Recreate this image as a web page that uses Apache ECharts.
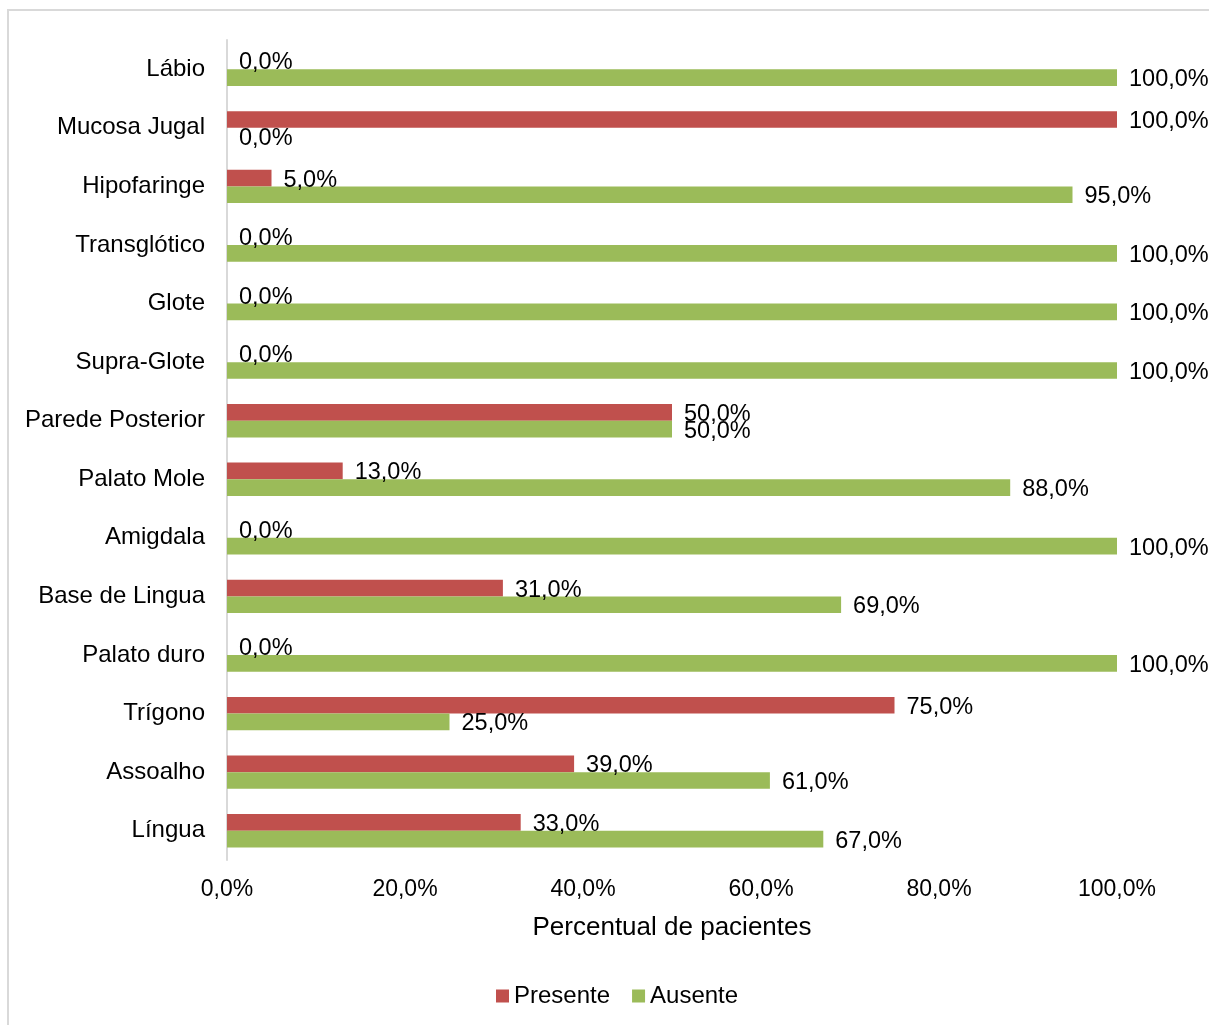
<!DOCTYPE html>
<html>
<head>
<meta charset="utf-8">
<script src="https://cdn.jsdelivr.net/npm/echarts@6/dist/echarts.min.js"></script>
<style>
  html, body { margin: 0; padding: 0; background: #ffffff; }
  #chart { width: 1209px; height: 1025px; }
</style>
</head>
<body>
<div id="chart"></div>
<script>
// Sites, listed top to bottom
const categories = [
  'Lábio', 'Mucosa Jugal', 'Hipofaringe', 'Transglótico', 'Glote', 'Supra-Glote',
  'Parede Posterior', 'Palato Mole', 'Amigdala', 'Base de Lingua', 'Palato duro',
  'Trígono', 'Assoalho', 'Língua'
];
const presente = [0, 100, 5, 0, 0, 0, 50, 13, 0, 31, 0, 75, 39, 33];
const ausente  = [100, 0, 95, 100, 100, 100, 50, 88, 100, 69, 100, 25, 61, 67];
const xTicks = [0, 20, 40, 60, 80, 100];

const FONT = 'Liberation Sans, Arial, sans-serif';
const fmt = v => Number(v).toFixed(1).replace('.', ',') + '%';

const chart = echarts.init(document.getElementById('chart'), null, { renderer: 'canvas' });

const labelStyle = {
  show: true,
  position: 'right',
  distance: 12,
  offset: [0, 2],
  color: '#000',
  fontFamily: FONT,
  fontSize: 23.5,
  formatter: p => fmt(p.value)
};

chart.setOption({
  animation: false,
  backgroundColor: '#ffffff',
  graphic: [{
    type: 'rect',
    shape: { x: 8, y: 10, width: 1210, height: 1030 },
    style: { fill: 'none', stroke: '#d9d9d9', lineWidth: 2 },
    silent: true
  }],
  grid: { left: 227, right: 92, top: 40, bottom: 165, containLabel: false },
  legend: {
    data: ['Presente', 'Ausente'],
    left: 491,
    top: 979,
    itemWidth: 13,
    itemHeight: 13,
    itemGap: 22,
    icon: 'rect',
    textStyle: { fontFamily: FONT, fontSize: 24, color: '#000' }
  },
  xAxis: {
    type: 'value',
    min: xTicks[0],
    max: xTicks[xTicks.length - 1],
    interval: 20,
    name: 'Percentual de pacientes',
    nameLocation: 'middle',
    nameGap: 55,
    nameTextStyle: { fontFamily: FONT, fontSize: 26, color: '#000' },
    axisLine: { show: false },
    axisTick: { show: false },
    splitLine: { show: false },
    axisLabel: {
      margin: 18,
      fontFamily: FONT,
      fontSize: 23,
      color: '#000',
      formatter: v => fmt(v)
    }
  },
  yAxis: {
    type: 'category',
    data: categories,
    inverse: true,
    axisLine: { show: true, lineStyle: { color: '#d9d9d9', width: 2 } },
    axisTick: { show: false },
    axisLabel: {
      margin: 22,
      fontFamily: FONT,
      fontSize: 24,
      color: '#000'
    }
  },
  series: [
    {
      name: 'Presente',
      type: 'bar',
      data: presente,
      barGap: '0%',
      barCategoryGap: '43%',
      itemStyle: { color: '#C0504D' },
      label: labelStyle
    },
    {
      name: 'Ausente',
      type: 'bar',
      data: ausente,
      barGap: '0%',
      barCategoryGap: '43%',
      itemStyle: { color: '#9BBB59' },
      label: labelStyle
    }
  ]
});
</script>
</body>
</html>
